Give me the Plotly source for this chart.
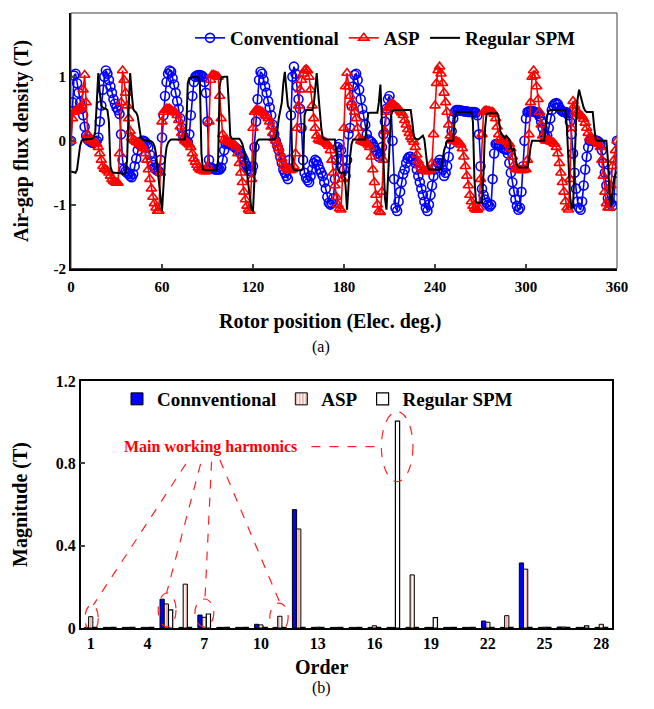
import plotly.graph_objects as go

# ---------------- Data: (a) air-gap flux density waveforms ----------------
rotor_position = list(range(0, 361))  # electrical degrees, 1-degree sampling

conventional_b = [
    0.00, 0.60, 1.02, 1.05, 0.90, 0.75, 0.60, 0.50, 0.40, 0.22,
    0.08, 0.02, 0.00, -0.02, -0.03, -0.03, -0.02, 0.00, 0.05, 0.30,
    0.55, 0.80, 1.00, 1.10, 1.05, 0.95, 0.85, 0.75, 0.65, 0.58,
    0.52, 0.48, 0.42, 0.10, -0.30, -0.45, -0.48, -0.50, -0.52, -0.55,
    -0.57, -0.52, -0.40, -0.28, -0.15, -0.06, -0.02, 0.00, 0.00, -0.02,
    -0.05, -0.10, -0.22, -0.32, -0.38, -0.42, -0.45, -0.47, -0.48, -0.30,
    0.05, 0.40, 0.70, 0.92, 1.05, 1.10, 1.08, 0.98, 0.88, 0.75,
    0.62, 0.50, 0.35, 0.20, 0.08, 0.02, 0.00, -0.02, 0.10, 0.40,
    0.70, 0.92, 1.00, 1.02, 1.03, 1.03, 1.02, 1.00, 0.92, 0.75,
    0.30, -0.30, -0.42, -0.43, -0.44, -0.45, -0.45, -0.45, -0.45, -0.42,
    -0.30, -0.15, -0.05, -0.03, -0.05, -0.06, -0.07, -0.08, -0.10, -0.12,
    -0.14, -0.16, -0.20, -0.25, -0.30, -0.36, -0.40, -0.44, -0.47, -0.48,
    -0.40, -0.10, 0.30, 0.65, 0.95, 1.08, 1.05, 0.95, 0.85, 0.75,
    0.62, 0.52, 0.40, 0.25, 0.10, 0.00, -0.08, -0.15, -0.25, -0.35,
    -0.45, -0.50, -0.55, -0.60, -0.30, 0.40, 1.00, 1.16, 1.05, 0.85,
    0.65, 0.50, 0.20, -0.30, -0.50, -0.58, -0.62, -0.65, -0.55, -0.45,
    -0.35, -0.30, -0.32, -0.38, -0.45, -0.50, -0.55, -0.65, -0.75, -0.88,
    -0.97, -1.00, -0.98, -0.90, -0.60, -0.30, -0.10, -0.05, -0.15, -0.30,
    -0.45, -0.55, -0.30, 0.10, 0.20, 0.55, 0.85, 1.03, 1.05, 0.95,
    0.80, 0.65, 0.50, 0.40, 0.25, 0.10, 0.02, 0.00, -0.02, -0.05,
    -0.10, -0.15, -0.20, -0.25, -0.22, -0.10, 0.10, 0.30, 0.50, 0.65,
    0.70, 0.55, 0.00, -0.60, -1.05, -1.10, -0.95, -0.80, -0.65, -0.52,
    -0.45, -0.35, -0.28, -0.25, -0.25, -0.28, -0.30, -0.35, -0.45, -0.55,
    -0.65, -0.75, -0.85, -0.95, -1.05, -1.10, -1.00, -0.85, -0.70, -0.55,
    -0.45, -0.40, -0.35, -0.30, -0.35, -0.45, -0.55, -0.50, -0.40, -0.25,
    -0.05, 0.15, 0.35, 0.45, 0.48, 0.48, 0.48, 0.47, 0.47, 0.46,
    0.46, 0.46, 0.45, 0.45, 0.45, 0.45, 0.45, 0.44, 0.40, 0.10,
    -0.40, -0.75, -0.85, -0.92, -0.97, -1.00, -1.03, -1.00, -0.60, -0.20,
    -0.05, -0.05, -0.06, -0.08, -0.10, -0.12, -0.13, -0.14, -0.20, -0.35,
    -0.50, -0.65, -0.80, -0.92, -1.02, -1.08, -1.05, -0.80, -0.40, 0.00,
    0.35, 0.45, 0.46, 0.46, 0.46, 0.46, 0.45, 0.44, 0.42, 0.38,
    0.30, 0.20, 0.10, 0.05, 0.08, 0.20, 0.35, 0.48, 0.55, 0.58,
    0.59, 0.57, 0.52, 0.48, 0.46, 0.45, 0.45, 0.44, 0.40, 0.30,
    0.10, -0.20, -0.50, -0.75, -0.95, -1.05, -1.08, -0.95, -0.70, -0.45,
    -0.25, -0.10, 0.00, 0.02, 0.02, 0.01, 0.00, 0.00, -0.02, -0.05,
    -0.15, -0.35, -0.50, -0.70, -0.90, -0.95, -0.98, -1.02, -0.90, -0.50,
    0.00,
]

asp_b = [
    0.00, 0.35, 0.45, 0.47, 0.48, 0.50, 0.52, 0.55, 0.80, 1.03,
    0.60, 0.10, 0.02, 0.00, 0.00, -0.02, -0.03, -0.05, -0.10, -0.20,
    -0.30, -0.40, -0.44, -0.45, -0.47, -0.50, -0.55, -0.60, -0.63, -0.65,
    -0.66, -0.66, -0.20, 0.60, 1.10, 0.95, 0.75, 0.55, 0.35, 0.15,
    0.05, 0.02, 0.00, -0.02, -0.03, -0.05, -0.06, -0.08, -0.12, -0.20,
    -0.30, -0.45, -0.60, -0.75, -0.88, -0.98, -1.05, -1.10, -1.10, -0.50,
    0.30, 0.45, 0.48, 0.50, 0.50, 0.50, 0.48, 0.46, 0.45, 0.44,
    0.40, 0.32, 0.22, 0.12, 0.04, 0.00, -0.02, -0.04, -0.06, -0.10,
    -0.20, -0.28, -0.33, -0.38, -0.42, -0.45, -0.46, -0.47, -0.48, -0.48,
    -0.40, 0.30, 0.95, 1.03, 1.03, 1.02, 1.01, 1.00, 0.70, 0.35,
    0.10, 0.02, 0.00, 0.00, -0.02, -0.03, -0.04, -0.05, -0.07, -0.10,
    -0.20, -0.35, -0.50, -0.65, -0.80, -0.92, -1.02, -1.08, -1.10, -0.60,
    0.20, 0.45, 0.48, 0.48, 0.47, 0.46, 0.45, 0.43, 0.40, 0.38,
    0.35, 0.30, 0.22, 0.12, 0.04, 0.00, -0.05, -0.12, -0.20, -0.28,
    -0.35, -0.40, -0.43, -0.45, -0.46, -0.46, -0.45, -0.40, -0.20, 0.20,
    0.55, 0.80, 0.95, 1.05, 1.10, 1.12, 1.10, 1.00, 0.80, 0.55,
    0.35, 0.20, 0.08, 0.02, 0.00, 0.00, -0.01, -0.02, -0.03, -0.05,
    -0.08, -0.15, -0.30, -0.50, -0.70, -0.88, -1.00, -1.06, -1.08, -0.60,
    0.20, 0.85, 1.06, 0.85, 0.70, 0.60, 0.52, 0.45, 0.35, 0.20,
    0.05, 0.00, -0.01, -0.02, -0.03, -0.04, -0.06, -0.10, -0.25, -0.45,
    -0.65, -0.85, -1.00, -1.10, -1.12, -0.80, -0.30, 0.15, 0.45, 0.52,
    0.55, 0.57, 0.58, 0.56, 0.54, 0.52, 0.50, 0.47, 0.44, 0.40,
    0.32, 0.25, 0.18, 0.12, 0.06, 0.02, -0.02, -0.10, -0.22, -0.32,
    -0.38, -0.42, -0.45, -0.47, -0.48, -0.48, -0.47, -0.46, -0.35, 0.10,
    0.55, 0.90, 1.10, 1.16, 1.05, 0.90, 0.75, 0.60, 0.45, 0.25,
    0.08, 0.02, 0.00, 0.00, -0.01, -0.02, -0.03, -0.06, -0.12, -0.25,
    -0.40, -0.55, -0.70, -0.85, -0.95, -1.02, -1.06, -1.08, -1.08, -1.05,
    -0.60, 0.10, 0.45, 0.47, 0.47, 0.46, 0.46, 0.45, 0.45, 0.42,
    0.35, 0.22, 0.10, 0.03, 0.00, 0.00, 0.00, 0.00, -0.02, -0.05,
    -0.12, -0.25, -0.38, -0.44, -0.45, -0.45, -0.46, -0.46, -0.46, -0.45,
    -0.45, -0.30, 0.10, 0.60, 1.00, 1.10, 1.02, 0.85, 0.65, 0.45,
    0.25, 0.08, 0.02, 0.00, 0.00, 0.00, -0.01, -0.02, -0.03, -0.05,
    -0.10, -0.20, -0.35, -0.50, -0.65, -0.80, -0.95, -1.05, -1.08, -0.60,
    0.20, 0.62, 0.55, 0.48, 0.45, 0.42, 0.40, 0.38, 0.34, 0.28,
    0.20, 0.12, 0.05, 0.02, 0.00, 0.00, -0.01, -0.02, -0.05, -0.10,
    -0.30, -0.55, -0.80, -0.98, -1.05, -1.05, -0.70, -0.40, -0.30, -0.15,
    0.00,
]

regular_spm_b = [
    -0.48, -0.49, -0.50, -0.50, -0.45, -0.25, -0.08, 0.00, 0.02, 0.02,
    0.02, 0.02, 0.02, 0.02, 0.03, 0.05, 0.15, 0.60, 1.06, 0.75,
    0.55, 0.52, 0.50, 0.50, 0.48, 0.30, -0.40, -0.48, -0.50, -0.50,
    -0.50, -0.50, -0.51, -0.51, -0.52, -0.52, -0.50, -0.30, 0.50, 1.06,
    0.75, 0.50, 0.46, 0.44, 0.38, 0.20, 0.06, 0.02, 0.01, 0.01,
    0.00, 0.00, 0.00, -0.01, -0.03, -0.08, -0.20, -0.45, -0.60, -0.90,
    -1.10, -0.70, -0.30, -0.10, -0.03, 0.00, 0.02, 0.02, 0.02, 0.02,
    0.02, 0.02, 0.02, 0.02, 0.02, 0.02, 0.20, 0.90, 0.98, 0.99,
    1.00, 1.00, 1.00, 1.00, 0.99, 0.90, -0.20, -0.45, -0.46, -0.46,
    -0.46, -0.46, -0.46, -0.46, -0.46, -0.46, -0.46, -0.30, 0.85, 0.99,
    1.00, 1.00, 1.00, 1.00, 0.60, 0.08, 0.03, 0.03, 0.03, 0.03,
    0.03, 0.03, 0.00, -0.05, -0.15, -0.30, -0.50, -0.70, -0.90, -1.08,
    -1.10, -0.40, -0.05, 0.00, 0.02, 0.02, 0.02, 0.02, 0.02, 0.02,
    0.02, 0.02, 0.02, 0.02, 0.02, 0.05, 0.15, 0.35, 0.50, 0.60,
    0.90, 1.08, 0.80, 0.55, 0.50, 0.45, -0.40, -0.46, -0.46, -0.46,
    -0.46, -0.46, -0.46, -0.44, 0.40, 0.48, 0.48, 0.48, 0.48, 0.48,
    0.55, 0.80, 1.06, 0.75, 0.45, 0.20, 0.05, 0.02, 0.02, 0.02,
    0.02, 0.02, 0.02, 0.02, 0.02, -0.20, -0.45, -0.50, -0.50, -0.50,
    -0.50, -0.70, -1.08, -0.70, -0.25, -0.05, 0.02, 0.02, 0.02, 0.02,
    0.02, 0.02, 0.02, 0.02, 0.02, 0.20, 0.43, 0.44, 0.44, 0.44,
    0.44, 0.44, 0.44, 0.60, 0.88, 0.30, -0.40, -0.90, -1.08, -0.60,
    0.10, 0.40, 0.46, 0.48, 0.48, 0.48, 0.48, 0.48, 0.48, 0.48,
    0.48, 0.48, 0.48, 0.48, 0.48, 0.30, 0.08, 0.03, 0.02, 0.02,
    0.04, 0.06, 0.08, 0.02, -0.20, -0.40, -0.45, -0.45, -0.45, -0.45,
    -0.45, -0.45, -0.45, -0.45, -0.45, -0.30, -0.15, -0.08, 0.00, 0.00,
    0.00, 0.00, 0.00, 0.35, 0.45, 0.45, 0.45, 0.45, 0.45, 0.45,
    0.45, 0.45, 0.45, 0.45, 0.45, 0.30, -0.60, -0.95, -0.97, -0.97,
    -0.97, -0.97, -0.50, 0.20, 0.42, 0.43, 0.43, 0.43, 0.43, 0.43,
    0.43, 0.43, 0.35, 0.15, 0.10, 0.06, 0.04, 0.08, 0.05, 0.02,
    -0.10, -0.15, -0.12, -0.25, -0.38, -0.42, -0.42, -0.42, -0.42, -0.42,
    -0.42, -0.42, -0.30, -0.10, 0.00, 0.00, 0.00, 0.00, 0.00, 0.00,
    0.00, 0.00, 0.00, 0.20, 0.40, 0.47, 0.48, 0.48, 0.48, 0.48,
    0.48, 0.48, 0.48, 0.48, 0.48, 0.48, 0.48, 0.20, -0.40, -0.85,
    -1.05, -1.05, -0.40, 0.30, 0.65, 0.80, 0.70, 0.60, 0.52, 0.47,
    0.45, 0.45, 0.45, 0.45, 0.45, 0.20, 0.02, 0.00, 0.00, 0.00,
    0.00, 0.00, 0.00, 0.00, -0.30, -0.80, -1.03, -0.80, -0.60, -0.52,
    -0.48,
]

x_ticks_a = [0, 60, 120, 180, 240, 300, 360]
y_ticks_a = [-2, -1, 0, 1, 2]
y_ticktext_a = ["-2", "-1", "0", "1", "2"]

# ---------------- Data: (b) harmonic spectrum ----------------
harmonic_order = list(range(1, 29))
conventional_mag = [0.003, 0.003, 0.003, 0.003, 0.140, 0.003, 0.063, 0.003, 0.003, 0.018,
                    0.003, 0.575, 0.003, 0.003, 0.003, 0.003, 0.003, 0.003, 0.003, 0.003,
                    0.003, 0.034, 0.003, 0.316, 0.003, 0.005, 0.003, 0.003]
asp_mag = [0.055, 0.003, 0.003, 0.003, 0.117, 0.213, 0.052, 0.003, 0.003, 0.015,
           0.057, 0.481, 0.004, 0.003, 0.003, 0.011, 0.003, 0.258, 0.003, 0.003,
           0.003, 0.028, 0.060, 0.286, 0.004, 0.005, 0.003, 0.018]
regular_spm_mag = [0.003, 0.003, 0.003, 0.003, 0.088, 0.003, 0.068, 0.003, 0.003, 0.003,
                   0.003, 0.003, 0.003, 0.003, 0.003, 0.003, 1.005, 0.003, 0.050, 0.003,
                   0.003, 0.003, 0.003, 0.003, 0.003, 0.003, 0.010, 0.003]
x_ticks_b = [1, 4, 7, 10, 13, 16, 19, 22, 25, 28]
y_ticks_b = [0, 0.4, 0.8, 1.2]
y_ticktext_b = ["0", "0.4", "0.8", "1.2"]

FONT = "Liberation Serif, Times New Roman, serif"
OFF = 8                 # page body margin of the html page
W, H = 654 - OFF, 709 - OFF


def px(x):
    return (x - OFF) / W


def py(y):
    return 1 - (y - OFF) / H


fig = go.Figure()

# ---- (a) waveforms ----
fig.add_trace(go.Scatter(
    x=rotor_position, y=conventional_b, name="Conventional", mode="lines+markers",
    line=dict(color="#0000ff", width=1.6),
    marker=dict(symbol="circle-open", size=9, color="#0000ff", line=dict(width=1.6)),
    xaxis="x", yaxis="y", legend="legend"))
fig.add_trace(go.Scatter(
    x=rotor_position, y=asp_b, name="ASP", mode="lines+markers",
    line=dict(color="#ff0000", width=1.6),
    marker=dict(symbol="triangle-up-open", size=9, color="#ff0000", line=dict(width=1.6)),
    xaxis="x", yaxis="y", legend="legend"))
fig.add_trace(go.Scatter(
    x=rotor_position, y=regular_spm_b, name="Regular SPM", mode="lines",
    line=dict(color="#000000", width=2),
    xaxis="x", yaxis="y", legend="legend"))

# ---- (b) spectrum ----
fig.add_trace(go.Bar(
    x=harmonic_order, y=conventional_mag, name="Connventional",
    marker=dict(color="#0000ff", line=dict(color="#000000", width=1)),
    xaxis="x2", yaxis="y2", legend="legend2"))
fig.add_trace(go.Bar(
    x=harmonic_order, y=asp_mag, name="ASP",
    marker=dict(color="#fff6ee", line=dict(color="#000000", width=1),
                pattern=dict(shape="|", fgcolor="#c81e1e", bgcolor="#fff6ee",
                             size=4, solidity=0.3)),
    xaxis="x2", yaxis="y2", legend="legend2"))
fig.add_trace(go.Bar(
    x=harmonic_order, y=regular_spm_mag, name="Regular SPM",
    marker=dict(color="#ffffff", line=dict(color="#000000", width=1.2)),
    xaxis="x2", yaxis="y2", legend="legend2"))

tick_font_a = dict(family=FONT, size=15, color="black", weight="bold")
tick_font_b = dict(family=FONT, size=16, color="black", weight="bold")

fig.update_layout(
    width=W, height=H,
    margin=dict(l=0, r=0, t=0, b=0, autoexpand=False),
    paper_bgcolor="white", plot_bgcolor="white",
    barmode="group", bargap=0.33, bargroupgap=0,
    font=dict(family=FONT, color="black"),
    xaxis=dict(domain=[px(71), px(617)], range=[0, 360], anchor="y", automargin=False,
               tickvals=x_ticks_a, ticks="inside", ticklen=5, tickwidth=1.5,
               ticklabelstandoff=3,
               showline=True, linecolor="black", linewidth=2, showgrid=False,
               zeroline=False, tickfont=tick_font_a),
    yaxis=dict(domain=[py(268.5), py(13)], range=[-2, 2], anchor="x", automargin=False,
               tickvals=y_ticks_a, ticktext=y_ticktext_a, ticks="inside", ticklen=5,
               tickwidth=1.5, showline=True, linecolor="black", linewidth=2,
               showgrid=False, zeroline=False, tickfont=tick_font_a),
    xaxis2=dict(domain=[px(80.7), px(611.7)], range=[0.47, 28.55], anchor="y2",
                automargin=False, tickvals=x_ticks_b, ticks="", showline=True,
                linecolor="black", linewidth=1.5, mirror=True, showgrid=False,
                zeroline=False, tickfont=tick_font_b),
    yaxis2=dict(domain=[py(628), py(381)], range=[0, 1.2], anchor="x2", automargin=False,
                tickvals=y_ticks_b, ticktext=y_ticktext_b, ticks="inside", ticklen=5,
                tickwidth=1.5, showline=True, linecolor="black", linewidth=1.5,
                mirror=True, showgrid=False, zeroline=False, tickfont=tick_font_b),
    legend=dict(orientation="h", x=px(190), y=py(38), xanchor="left", yanchor="middle",
                bgcolor="rgba(0,0,0,0)", font=dict(family=FONT, size=19, weight="bold"),
                traceorder="normal"),
    legend2=dict(orientation="h", x=px(117), y=py(399), xanchor="left", yanchor="middle",
                 bgcolor="rgba(0,0,0,0)", font=dict(family=FONT, size=19, weight="bold"),
                 traceorder="normal"),
    showlegend=True,
)

# box border of (a): top and right edges (thin grey)
fig.add_shape(type="rect", xref="paper", yref="paper",
              x0=px(71), x1=px(617), y0=py(268.5), y1=py(13),
              line=dict(color="#404040", width=1), layer="above")

title_font = dict(family=FONT, size=20, color="black", weight="bold")
label_font = dict(family=FONT, size=16, color="black")
annos = [
    dict(text="Air-gap flux density (T)", x=px(21), y=py(141), textangle=-90, font=title_font),
    dict(text="Rotor position (Elec. deg.)", x=px(330), y=py(321), font=title_font),
    dict(text="(a)", x=px(321), y=py(347), font=label_font),
    dict(text="Magnitude (T)", x=px(20), y=py(505), textangle=-90, font=title_font),
    dict(text="Order", x=px(321), y=py(667), font=title_font),
    dict(text="(b)", x=px(321), y=py(688), font=label_font),
]
for a in annos:
    fig.add_annotation(xref="paper", yref="paper", showarrow=False,
                       xanchor="center", yanchor="middle", **a)

# "Main working harmonics" callout in data coordinates of (b)
fig.add_annotation(xref="x2", yref="y2", x=7.36, y=0.881, showarrow=False,
                   text="Main working harmonics",
                   font=dict(family=FONT, size=16, color="#ff0000", weight="bold"))

red_dash = dict(color="#ff2020", width=1.2, dash="dash")
ellipses = [  # x0, x1, y0, y1 in data coords of (b)
    (0.70, 1.40, -0.018, 0.112),
    (4.57, 5.51, 0.005, 0.170),
    (6.51, 7.51, 0.005, 0.141),
    (10.47, 11.44, -0.019, 0.121),
    (16.37, 18.04, 0.711, 1.051),
]
for x0, x1, y0, y1 in ellipses:
    fig.add_shape(type="circle", xref="x2", yref="y2", x0=x0, x1=x1, y0=y0, y1=y1,
                  line=red_dash, layer="above")

leaders = [
    (6.03, 0.797, 1.14, 0.112),
    (6.81, 0.797, 5.01, 0.169),
    (7.39, 0.808, 7.04, 0.139),
    (7.83, 0.816, 11.00, 0.123),
    (12.67, 0.881, 16.37, 0.881),
]
for x0, y0, x1, y1 in leaders:
    fig.add_shape(type="line", xref="x2", yref="y2", x0=x0, y0=y0, x1=x1, y1=y1,
                  line=red_dash, layer="above")

fig.write_html("out.html")
